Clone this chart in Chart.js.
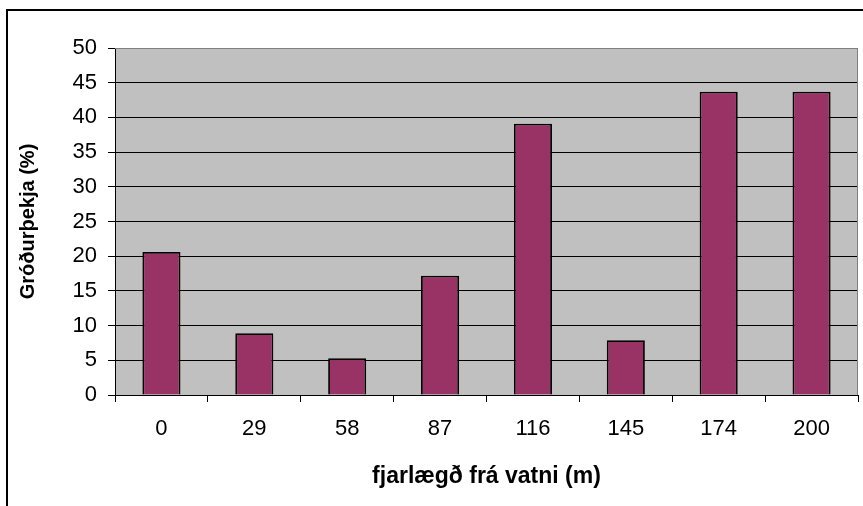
<!DOCTYPE html>
<html>
<head>
<meta charset="utf-8">
<script src="https://cdn.jsdelivr.net/npm/chart.js@4/dist/chart.umd.min.js"></script>
<style>
  html, body { margin: 0; padding: 0; background: #fff; }
  canvas { display: block; }
</style>
</head>
<body>
<canvas id="chart" width="863" height="506"></canvas>
<script>
// distance from the lake (m) and vegetation cover (%)
const distances = ['0', '29', '58', '87', '116', '145', '174', '200'];
const cover = [20.6, 8.9, 5.3, 17.2, 39.1, 7.9, 43.7, 43.7];
const yTicks = { min: 0, max: 50, step: 5 };

const FONT = "'Liberation Sans', Arial, sans-serif";

// white page, outer frame, grey plot area
const frame = {
    id: 'frame',
    beforeDraw(chart) {
        const { ctx, chartArea: a } = chart;
        ctx.save();
        ctx.fillStyle = '#fff';
        ctx.fillRect(0, 0, chart.width, chart.height);
        ctx.strokeStyle = '#000';
        ctx.lineWidth = 2;
        ctx.beginPath();
        ctx.moveTo(7, chart.height);
        ctx.lineTo(7, 10);
        ctx.lineTo(chart.width, 10);
        ctx.stroke();
        ctx.fillStyle = '#c0c0c0';
        ctx.fillRect(a.left, a.top, a.right - a.left, a.bottom - a.top);
        ctx.restore();
    },
    afterDatasetsDraw(chart) {
        const { ctx, chartArea: a } = chart;
        ctx.save();
        ctx.strokeStyle = '#808080';
        ctx.lineWidth = 1;
        ctx.beginPath();
        ctx.moveTo(a.left, a.top + 0.5);
        ctx.lineTo(a.right - 0.5, a.top + 0.5);
        ctx.lineTo(a.right - 0.5, a.bottom);
        ctx.stroke();
        ctx.restore();
    }
};

new Chart(document.getElementById('chart'), {
    type: 'bar',
    data: {
        labels: distances,
        datasets: [{
            data: cover,
            backgroundColor: '#993366',
            borderColor: '#000',
            borderWidth: 1.8,
            categoryPercentage: 1,
            barPercentage: 0.41
        }]
    },
    options: {
        responsive: false,
        animation: false,
        devicePixelRatio: 1,
        layout: { padding: { left: 0, top: 48, right: 5, bottom: 0 } },
        plugins: { legend: { display: false }, tooltip: { enabled: false } },
        scales: {
            x: {
                afterFit(s) { s.height = 111; },
                grid: { drawOnChartArea: false, tickLength: 7, tickColor: '#000' },
                border: { color: '#000', width: 1 },
                ticks: { color: '#000', padding: 14, font: { family: FONT, size: 22, lineHeight: 1.2 } },
                title: {
                    display: true,
                    text: 'fjarlægð frá vatni (m)',
                    color: '#000',
                    padding: { top: 0, bottom: 16 },
                    font: { family: FONT, size: 23, weight: 'bold', lineHeight: 1.2 }
                }
            },
            y: {
                min: yTicks.min,
                max: yTicks.max,
                afterFit(s) { s.width = 115; },
                grid: {
                    color: c => c.tick && c.tick.value === yTicks.max ? '#808080' : '#000',
                    tickLength: 7,
                    tickColor: '#000'
                },
                border: { color: '#000', width: 1 },
                ticks: { stepSize: yTicks.step, color: '#000', padding: 11, font: { family: FONT, size: 22, lineHeight: 1.2 } },
                title: {
                    display: true,
                    text: 'Gróðurþekja (%)',
                    color: '#000',
                    padding: { top: 16, bottom: 0 },
                    font: { family: FONT, size: 20, weight: 'bold', lineHeight: 1.2 }
                }
            }
        }
    },
    plugins: [frame]
});
</script>
</body>
</html>
